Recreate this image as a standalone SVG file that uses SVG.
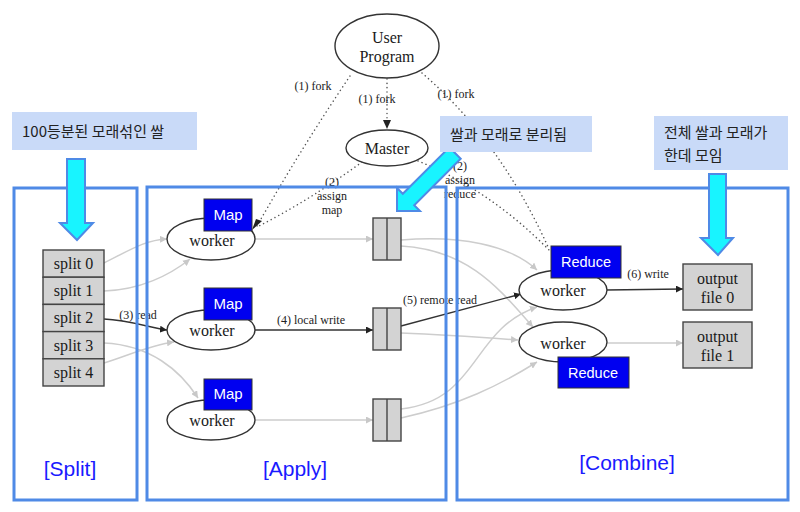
<svg xmlns="http://www.w3.org/2000/svg" width="800" height="512" viewBox="0 0 800 512">
<style>
.node{fill:#fff;stroke:#333;stroke-width:1.4}
.gbox{fill:#d3d3d3;stroke:#444;stroke-width:1.4}
.bl{fill:#0000f0;stroke:#333;stroke-width:1}
.serif{font-family:"Liberation Serif","Times New Roman",serif;fill:#1a1a1a}
.t16{font-size:16px}
.lab{font-size:12px;fill:#222}
.wt{font-family:"Liberation Sans",Arial,sans-serif;font-size:15px;fill:#fff}
.gray{fill:none;stroke:#cdcdcd;stroke-width:1.5}
.dark{fill:none;stroke:#333;stroke-width:1.3}
.dot{fill:none;stroke:#555;stroke-width:1.5;stroke-dasharray:0.1 4.2;stroke-linecap:round}
.panel{fill:none;stroke:#4f8ae6;stroke-width:3}
.plab{font-family:"Liberation Sans",Arial,sans-serif;font-size:21px;fill:#1a1aff}
.call{fill:#c9daf8}
.kr{font-family:"Noto Sans CJK KR","Noto Sans",sans-serif;font-size:15px;fill:#222}
.cyan{fill:#18f4ff;stroke:#4f8ae6;stroke-width:2}
</style>
<defs>
<marker id="ad" viewBox="0 0 10 10" refX="10" refY="5" markerWidth="7" markerHeight="7" orient="auto" markerUnits="userSpaceOnUse"><path d="M0,0 L10,5 L0,10 z" fill="#222"/></marker>
<marker id="ag" viewBox="0 0 10 10" refX="10" refY="5" markerWidth="7" markerHeight="7" orient="auto" markerUnits="userSpaceOnUse"><path d="M0,0 L10,5 L0,10 z" fill="#c8c8c8"/></marker>
</defs>
<rect width="800" height="512" fill="#fff"/>

<g id="connectors">
<path class="gray" d="M104,263 C130,250 145,240 167,239" marker-end="url(#ag)"/>
<path class="gray" d="M104,291 C140,290 170,275 190,259" marker-end="url(#ag)"/>
<path class="dark" d="M104,319 C130,320 150,328 167,330" marker-end="url(#ad)"/>
<path class="gray" d="M104,343 C150,345 180,370 198,398" marker-end="url(#ag)"/>
<path class="gray" d="M104,363 C130,355 150,345 174,342" marker-end="url(#ag)"/>
<text class="serif lab" x="138" y="319" text-anchor="middle">(3) read</text>

<path class="gray" d="M255,239 H373" marker-end="url(#ag)"/>
<path class="dark" d="M255,330 H373" marker-end="url(#ad)"/>
<text class="serif lab" x="311" y="324" text-anchor="middle">(4) local write</text>
<path class="gray" d="M255,420 H373" marker-end="url(#ag)"/>

<path class="gray" d="M401,240 C460,235 510,245 537,270" marker-end="url(#ag)"/>
<path class="gray" d="M401,246 C470,250 500,290 533,327" marker-end="url(#ag)"/>
<path class="gray" d="M401,333 C450,335 490,338 518,340" marker-end="url(#ag)"/>
<path class="gray" d="M401,409 C480,400 470,330 537,307" marker-end="url(#ag)"/>
<path class="gray" d="M401,418 C460,405 500,385 537,362" marker-end="url(#ag)"/>
<path class="dark" d="M401,326 L521,294" marker-end="url(#ad)"/>
<text class="serif lab" x="440" y="304" text-anchor="middle">(5) remote read</text>

<path class="dark" d="M606,290 L683,289" marker-end="url(#ad)"/>
<text class="serif lab" x="648" y="278" text-anchor="middle">(6) write</text>
<path class="gray" d="M606,343 L683,343" marker-end="url(#ag)"/>

<path class="dot" d="M350,76 Q300,150 257,226"/>
<path class="dot" d="M362,162 Q310,200 257,227"/>
<path d="M262,221 L252,230 L256,219 z" fill="#222"/>
<path class="dot" d="M387,79 V122"/>
<path d="M383,120 L387,129 L391,120 z" fill="#222"/>
<path class="dot" d="M418,161 Q490,190 549,250"/>
<path class="dot" d="M422,73 Q500,140 549,249"/>
<text class="serif lab" x="313" y="90" text-anchor="middle">(1) fork</text>
<text class="serif lab" x="377" y="103" text-anchor="middle">(1) fork</text>
<text class="serif lab" x="456" y="98" text-anchor="middle">(1) fork</text>
<text class="serif lab" x="332" y="186" text-anchor="middle">(2)</text>
<text class="serif lab" x="332" y="200" text-anchor="middle">assign</text>
<text class="serif lab" x="332" y="214" text-anchor="middle">map</text>
<text class="serif lab" x="460" y="170" text-anchor="middle">(2)</text>
<text class="serif lab" x="460" y="184" text-anchor="middle">assign</text>
<text class="serif lab" x="460" y="198" text-anchor="middle">reduce</text>
</g>

<g id="user-program">
<ellipse class="node" cx="387" cy="46" rx="52" ry="32"/>
<text class="serif t16" x="387" y="43" text-anchor="middle">User</text>
<text class="serif t16" x="387" y="62" text-anchor="middle">Program</text>
</g>
<g id="master">
<ellipse class="node" cx="387" cy="148" rx="41" ry="18"/>
<text class="serif t16" x="387" y="154" text-anchor="middle">Master</text>
</g>

<g id="splits">
<rect class="gbox" x="43" y="250" width="61" height="27.2"/>
<rect class="gbox" x="43" y="277.2" width="61" height="27.2"/>
<rect class="gbox" x="43" y="304.4" width="61" height="27.2"/>
<rect class="gbox" x="43" y="331.6" width="61" height="27.2"/>
<rect class="gbox" x="43" y="358.8" width="61" height="27.2"/>
<text class="serif t16" x="73.5" y="269" text-anchor="middle">split 0</text>
<text class="serif t16" x="73.5" y="296" text-anchor="middle">split 1</text>
<text class="serif t16" x="73.5" y="323" text-anchor="middle">split 2</text>
<text class="serif t16" x="73.5" y="351" text-anchor="middle">split 3</text>
<text class="serif t16" x="73.5" y="378" text-anchor="middle">split 4</text>
</g>

<g id="map-worker-0">
<ellipse class="node" cx="211" cy="239" rx="44" ry="21"/>
<text class="serif t16" x="212" y="246" text-anchor="middle">worker</text>
<rect class="bl" x="204" y="199" width="48" height="32"/>
<text class="wt" x="228" y="220" text-anchor="middle">Map</text>
</g>
<g id="map-worker-1">
<ellipse class="node" cx="211" cy="330" rx="44" ry="20"/>
<text class="serif t16" x="212" y="336" text-anchor="middle">worker</text>
<rect class="bl" x="204" y="288" width="48" height="32"/>
<text class="wt" x="228" y="309" text-anchor="middle">Map</text>
</g>
<g id="map-worker-2">
<ellipse class="node" cx="211" cy="420" rx="44" ry="20"/>
<text class="serif t16" x="212" y="426" text-anchor="middle">worker</text>
<rect class="bl" x="204" y="379" width="48" height="31"/>
<text class="wt" x="228" y="399" text-anchor="middle">Map</text>
</g>

<g id="intermediate-0">
<rect class="gbox" x="373" y="218" width="28" height="42"/>
<line x1="387" y1="218" x2="387" y2="260" stroke="#444" stroke-width="1.4"/>
</g>
<g id="intermediate-1">
<rect class="gbox" x="373" y="308" width="28" height="42"/>
<line x1="387" y1="308" x2="387" y2="350" stroke="#444" stroke-width="1.4"/>
</g>
<g id="intermediate-2">
<rect class="gbox" x="373" y="399" width="28" height="42"/>
<line x1="387" y1="399" x2="387" y2="441" stroke="#444" stroke-width="1.4"/>
</g>

<g id="reduce-worker-0">
<ellipse class="node" cx="563" cy="290" rx="44" ry="20"/>
<text class="serif t16" x="563" y="296" text-anchor="middle">worker</text>
<rect class="bl" x="551" y="246" width="70" height="32"/>
<text class="wt" x="586" y="267" text-anchor="middle" style="font-size:14.5px">Reduce</text>
</g>
<g id="reduce-worker-1">
<ellipse class="node" cx="563" cy="342" rx="44" ry="20"/>
<text class="serif t16" x="563" y="349" text-anchor="middle">worker</text>
<rect class="bl" x="558" y="357" width="71" height="31"/>
<text class="wt" x="593" y="378" text-anchor="middle" style="font-size:14.5px">Reduce</text>
</g>

<g id="output-0">
<rect class="gbox" x="683" y="264" width="69" height="46"/>
<text class="serif t16" x="717.5" y="284" text-anchor="middle">output</text>
<text class="serif t16" x="717.5" y="303" text-anchor="middle">file 0</text>
</g>
<g id="output-1">
<rect class="gbox" x="683" y="322" width="69" height="46"/>
<text class="serif t16" x="717.5" y="342" text-anchor="middle">output</text>
<text class="serif t16" x="717.5" y="361" text-anchor="middle">file 1</text>
</g>

<g id="panels">
<rect class="panel" x="14" y="188" width="123" height="312"/>
<rect class="panel" x="147" y="187" width="299" height="313"/>
<rect class="panel" x="457" y="188" width="331" height="312"/>
<text class="plab" x="70" y="476" text-anchor="middle">[Split]</text>
<text class="plab" x="295" y="476" text-anchor="middle">[Apply]</text>
<text class="plab" x="627" y="470" text-anchor="middle">[Combine]</text>
</g>

<g id="arrows">
<path class="cyan" d="M67,159 H85 V223 H93 L77,240 L60,223 H67 Z"/>
<path class="cyan" d="M709,174 H726 V238 H733 L718,255 L701,238 H709 Z"/>
<path class="cyan" d="M449.3,147.3 L460.7,158.7 L414.2,205.2 L420,211 L397,211 L397,188 L402.8,193.8 Z"/>
</g>

<g id="callouts">
<rect class="call" x="12" y="112" width="185" height="38"/>
<text class="kr" x="22" y="137">100등분된 모래섞인 쌀</text>
<rect class="call" x="440" y="116" width="152" height="36"/>
<text class="kr" x="450" y="140">쌀과 모래로 분리됨</text>
<rect class="call" x="654" y="116" width="134" height="54"/>
<text class="kr" x="664" y="138">전체 쌀과 모래가</text>
<text class="kr" x="664" y="161">한데 모임</text>
</g>
</svg>
